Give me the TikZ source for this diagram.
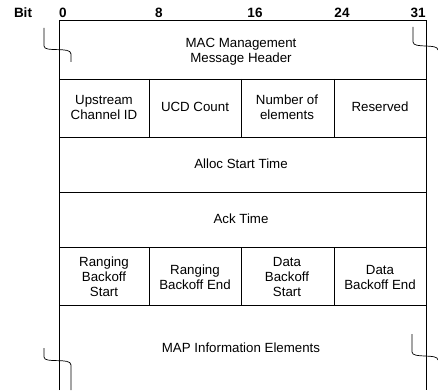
\documentclass[tikz,border=0pt]{standalone}
\usepackage{fontspec}
\setmainfont{Liberation Sans}

\begin{document}
\begin{tikzpicture}[x=1pt,y=-1pt,line width=0.8pt]
	\tikzset{field/.style={font=\fontsize{13.3}{15}\selectfont,align=center,inner sep=0pt},
		bitnum/.style={font=\fontsize{13.5}{15}\selectfont\bfseries,inner sep=0pt},
		brk/.style={line width=0.7pt}}
	\useasboundingbox (0,0) rectangle (438,390);

	% frame and rows
	\draw (59,390) -- (59,20) -- (426,20) -- (426,390);
	\foreach \y in {79,137,192,247,305}
		\draw (59,\y) -- (426,\y);
	\draw (149,79) -- (149,137);
	\draw (241,79) -- (241,137);
	\draw (334,79) -- (334,137);
	\draw (149,247) -- (149,305);
	\draw (241,247) -- (241,305);
	\draw (334,247) -- (334,305);

	% bit numbers
	\node[bitnum] (bit) at (23,13) {Bit};
	\node[bitnum] (b0) at (63,13) {0};
	\node[bitnum] (b8) at (159,13) {8};
	\node[bitnum] (b16) at (255,13) {16};
	\node[bitnum] (b24) at (342,13) {24};
	\node[bitnum] (b31) at (418,13) {31};

	% fields
	\node[field] (hdr) at (241,52) {MAC Management\\Message Header};
	\node[field] (upid) at (104,107) {Upstream\\Channel ID};
	\node[field] (ucd) at (195,107) {UCD Count};
	\node[field] (nelem) at (287,107) {Number of\\elements};
	\node[field] (resv) at (380,107) {Reserved};
	\node[field] (alloc) at (241,164) {Alloc Start Time};
	\node[field] (ack) at (241,219) {Ack Time};
	\node[field] (rbs) at (104,277) {Ranging\\Backoff\\Start};
	\node[field] (rbe) at (195,277) {Ranging\\Backoff End};
	\node[field] (dbs) at (287,277) {Data\\Backoff\\Start};
	\node[field] (dbe) at (380,277) {Data\\Backoff End};
	\node[field] (map) at (241,348) {MAP Information Elements};

	% break marks
	\draw[brk] (44,28) -- (44,46) .. controls (44,53) and (71,46) .. (71,54) -- (71,62);
	\draw[brk] (413,27) -- (413,42) .. controls (413,49) and (438,43) .. (438,50);
	\draw[brk] (44,348) -- (44,357) .. controls (44,364) and (71,357) .. (71,365) -- (71,390);
	\draw[brk] (412,334) -- (412,352) .. controls (412,359) and (438,353) .. (438,360);
\end{tikzpicture}
\end{document}
